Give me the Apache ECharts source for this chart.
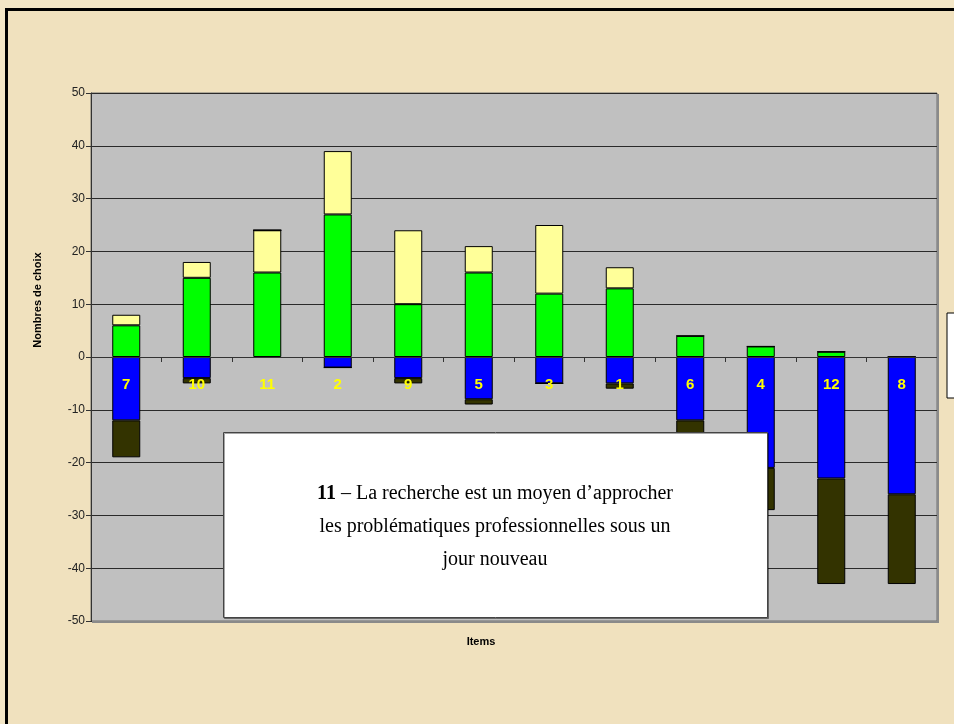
<!DOCTYPE html>
<html>
<head>
<meta charset="utf-8">
<script src="https://cdn.jsdelivr.net/npm/echarts@6/dist/echarts.min.js"></script>
<style>
html,body{margin:0;padding:0;background:#F3E6C6;}
#c{width:954px;height:724px;}
</style>
</head>
<body>
<div id="c"></div>
<script>
var categories = ['7','10','11','2','9','5','3','1','6','4','12','8'];
var greenVals  = [6, 15, 16, 27, 10, 16, 12, 13, 4, 2, 1, 0];
var yellowVals = [2, 3, 8, 12, 14, 5, 13, 4, 0, 0, 0, 0];
var blueVals   = [-12, -4, 0, -2, -4, -8, -5, -5, -12, -21, -23, -26];
var darkVals   = [-7, -1, 0, 0, -1, -1, 0, -1, -9, -8, -20, -17];
var yTicks = { min: -50, max: 50, step: 10 };
var seriesNames = ['Choix 1', 'Choix 2', 'Rejet 1', 'Rejet 2'];

var chart = echarts.init(document.getElementById('c'));
function bar(name, data, color) {
  return {
    name: name, type: 'bar', stack: 'tot', data: data, barWidth: 28,
    itemStyle: { color: color, borderColor: '#000', borderWidth: 1 }
  };
}
chart.setOption({
  backgroundColor: '#F0E1BE',
  animation: false,
  legend: {
    orient: 'vertical', left: 947, top: 313,
    backgroundColor: '#fff', borderColor: '#000', borderWidth: 1,
    padding: [8, 5, 8, 14], itemGap: 7, itemWidth: 10, itemHeight: 10,
    textStyle: { fontSize: 11, color: '#000' },
    data: seriesNames
  },
  grid: {
    left: 91, top: 93, width: 846, height: 528, show: true,
    backgroundColor: '#C0C0C0', borderColor: '#6E6E6E', borderWidth: 1
  },
  xAxis: {
    type: 'category', data: categories, position: 'bottom', offset: -264, z: 5,
    axisLine: { onZero: false, lineStyle: { color: '#333', width: 1 } },
    axisTick: { show: true, interval: 0, length: 5, lineStyle: { color: '#333' } },
    axisLabel: { interval: 0, margin: 20, color: '#FFFF00', fontWeight: 'bold', fontSize: 15,
                 fontFamily: '"Liberation Sans Narrow", "Liberation Sans", Arial, sans-serif' },
    splitLine: { show: false }
  },
  yAxis: {
    type: 'value', min: yTicks.min, max: yTicks.max, interval: yTicks.step,
    axisLine: { show: true, lineStyle: { color: '#333' } },
    axisTick: { show: true, length: 5, lineStyle: { color: '#333' } },
    axisLabel: { color: '#222', fontSize: 12, margin: 6,
                 fontFamily: '"Liberation Sans Narrow", "Liberation Sans", Arial, sans-serif' },
    splitLine: { show: true, lineStyle: { color: '#2a2a2a', width: 1 } }
  },
  series: [
    bar(seriesNames[0], greenVals, '#00FF00'),
    bar(seriesNames[1], yellowVals, '#FFFF99'),
    bar(seriesNames[2], blueVals, '#0000FF'),
    bar(seriesNames[3], darkVals, '#333300')
  ],
  graphic: [
    { type: 'rect', shape: { x: 0, y: 0, width: 954, height: 8 }, style: { fill: '#F3E6C6' }, z: 0 },
    { type: 'rect', shape: { x: 0, y: 0, width: 5, height: 724 }, style: { fill: '#F3E6C6' }, z: 0 },
    { type: 'line', shape: { x1: 5, y1: 9.5, x2: 954, y2: 9.5 }, style: { stroke: '#000', lineWidth: 3 }, z: 10 },
    { type: 'line', shape: { x1: 6.5, y1: 8, x2: 6.5, y2: 724 }, style: { stroke: '#000', lineWidth: 3 }, z: 10 },
    { type: 'line', shape: { x1: 938, y1: 94, x2: 938, y2: 622 }, style: { stroke: '#8A8A8A', lineWidth: 2 }, z: 10 },
    { type: 'line', shape: { x1: 92, y1: 622, x2: 939, y2: 622 }, style: { stroke: '#8A8A8A', lineWidth: 2 }, z: 10 },
    { type: 'text', x: 38, y: 300, rotation: Math.PI / 2,
      style: { text: 'Nombres de choix', fill: '#000', font: 'bold 11px "Liberation Sans", Arial, sans-serif',
               align: 'center', verticalAlign: 'middle' }, z: 20 },
    { type: 'text', x: 481, y: 642,
      style: { text: 'Items', fill: '#000', font: 'bold 11px "Liberation Sans", Arial, sans-serif',
               align: 'center', verticalAlign: 'middle' }, z: 20 },
    { type: 'rect', shape: { x: 223.5, y: 432.5, width: 544, height: 185 },
      style: { fill: '#fff', stroke: '#444', lineWidth: 1, shadowColor: 'rgba(0,0,0,0.35)', shadowOffsetX: 1, shadowOffsetY: 1 }, z: 30 },
    { type: 'text', x: 495, y: 527,
      style: {
        text: '{b|11} – La recherche est un moyen d’approcher\nles problématiques professionnelles sous un\njour nouveau',
        font: '20px "Liberation Serif", "Times New Roman", serif', fill: '#000',
        align: 'center', verticalAlign: 'middle', lineHeight: 33,
        rich: { b: { fontWeight: 'bold', fontSize: 20, fontFamily: '"Liberation Serif", "Times New Roman", serif', lineHeight: 33 } }
      }, z: 31 }
  ]
});
</script>
</body>
</html>
